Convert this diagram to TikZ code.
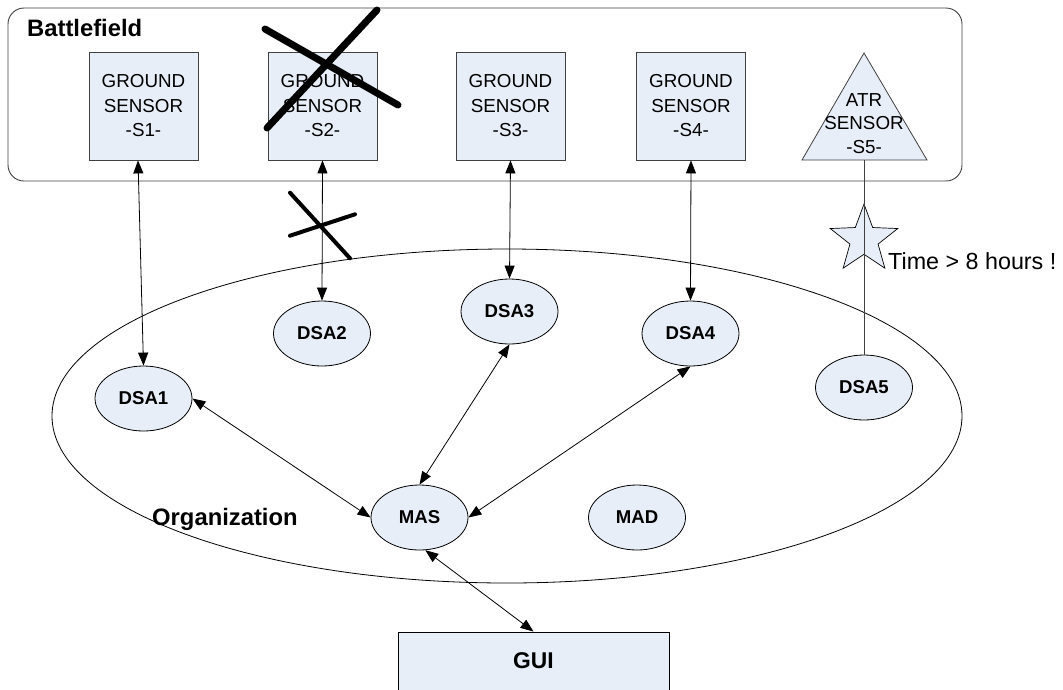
\documentclass[tikz,border=0pt]{standalone}
\usepackage{fontspec}
\setmainfont{Liberation Sans}
\usetikzlibrary{arrows.meta,shapes.geometric}
\definecolor{nodefill}{RGB}{232,238,247}
\definecolor{edgegray}{RGB}{64,64,64}
\begin{document}
\begin{tikzpicture}[x=1pt,y=-1pt,
  sensorbox/.style={draw=edgegray, fill=nodefill, line width=0.8pt, minimum width=109pt, minimum height=108pt, inner sep=0pt, align=center, font=\fontsize{18.8}{24.5}\selectfont},
  agent/.style={ellipse, draw=black, fill=nodefill, line width=0.8pt, minimum width=97pt, minimum height=65pt, inner sep=0pt, font=\bfseries\fontsize{18.6}{20}\selectfont},
  link/.style={line width=0.8pt, {Triangle[length=13pt,width=10pt]}-{Triangle[length=13pt,width=10pt]}},
  bigcross/.style={line width=7pt, line cap=round},
  smallcross/.style={line width=4pt, line cap=round},
  bigtitle/.style={font=\bfseries\fontsize{23.8}{26}\selectfont, inner sep=0pt}]
\useasboundingbox (0,0) rectangle (1063,689);
\clip (0,0) rectangle (1063,689);

% Battlefield frame
\node[draw=edgegray, line width=0.9pt, rounded corners=16pt, minimum width=954pt, minimum height=173pt, inner sep=0pt] (bf) at (485,94.5) {};
\node[bigtitle, anchor=base west] (bftitle) at (27,36.5) {Battlefield};

% Organization ellipse
\node[ellipse, draw=black, line width=0.8pt, minimum width=910pt, minimum height=334pt, inner sep=0pt] (org) at (507,416) {};
\node[bigtitle, anchor=base west] (orgtitle) at (152,525) {Organization};

% Sensors
\node[sensorbox] (s1) at (143.5,106) {GROUND\\SENSOR\\-S1-};
\node[sensorbox] (s2) at (322.5,106) {GROUND\\SENSOR\\-S2-};
\node[sensorbox] (s3) at (510.5,106) {GROUND\\SENSOR\\-S3-};
\node[sensorbox] (s4) at (691,106) {GROUND\\SENSOR\\-S4-};
\coordinate (tA) at (864,53);
\coordinate (tB) at (927,160);
\coordinate (tC) at (802,160);
\coordinate (s5b) at (864,160);
\draw[draw=edgegray, fill=nodefill, line width=0.8pt] (tA) -- (tB) -- (tC) -- cycle;
\node[align=center, inner sep=0pt, font=\fontsize{18.8}{23.5}\selectfont] (s5) at (864,123.3) {ATR\\SENSOR\\-S5-};

% Agents
\node[agent] (dsa1) at (143.5,398.5) {DSA1};
\node[agent] (dsa2) at (322,333.5) {DSA2};
\node[agent] (dsa3) at (509.5,311.5) {DSA3};
\node[agent] (dsa4) at (690.5,333.5) {DSA4};
\node[agent] (dsa5) at (864,387.5) {DSA5};
\node[agent] (mas) at (419.5,517.5) {MAS};
\node[agent] (mad) at (637,517.5) {MAD};

% GUI
\node[draw=black, fill=nodefill, line width=0.9pt, minimum width=271pt, minimum height=58pt, inner sep=0pt, font=\bfseries\fontsize{22.8}{25}\selectfont] (gui) at (533.5,661) {GUI};

% Star and failing link
\node[star, star points=5, star point ratio=2.4, minimum size=71pt, inner sep=0pt, draw=black, fill=nodefill, line width=0.7pt] (alarm) at (864,239.5) {};
\draw[line width=0.8pt, draw=edgegray] (s5b) -- (dsa5.north);
\node[anchor=base west, inner sep=0pt, font=\fontsize{23.3}{26}\selectfont] (timetext) at (888,269) {Time > 8 hours !};

% Links
\draw[link] ([xshift=-5.5pt]s1.south) -- (dsa1.north);
\draw[link] (s2.south) -- (dsa2.north);
\draw[link] (s3.south) -- (dsa3.north);
\draw[link] (s4.south) -- (dsa4.north);
\draw[link] (dsa1.east) -- (mas.west);
\draw[link] (dsa3.south) -- (mas.north);
\draw[link] (dsa4.south) -- (mas.east);
\draw[link] (mas.-80) -- (gui.north);

% Crosses
\draw[bigcross] (265,29) -- (398,105);
\draw[bigcross] (377,10) -- (267,128);
\draw[smallcross] (290,192.7) -- (350,258.3);
\draw[smallcross] (290,235.7) -- (355,214.3);
\end{tikzpicture}
\end{document}
